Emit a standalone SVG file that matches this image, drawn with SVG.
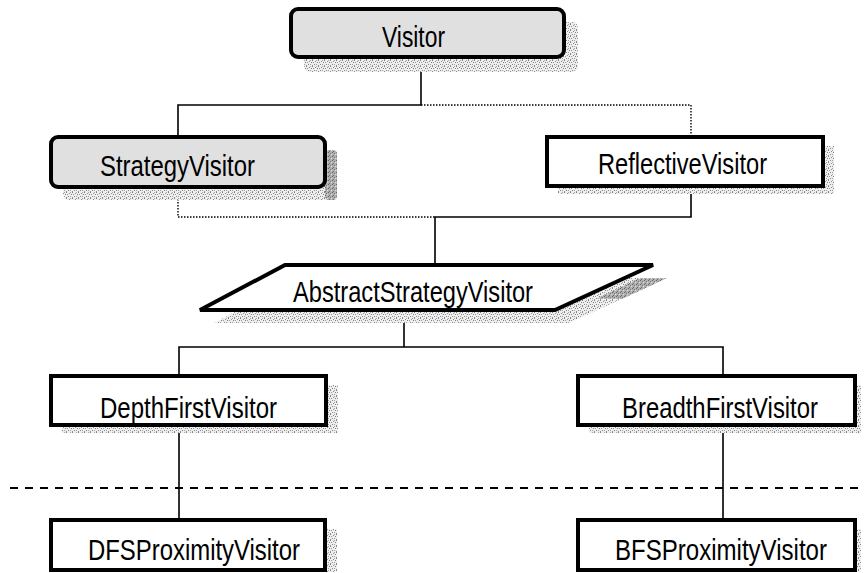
<svg xmlns="http://www.w3.org/2000/svg" width="864" height="573" viewBox="0 0 864 573">
<style>
.box{stroke:#000;stroke-width:4;fill:#fff}
.gray{fill:#e0e0e0}
.lbl{font-family:"Liberation Sans",Arial,sans-serif;font-size:30px;fill:#000;text-anchor:middle}
.ln{stroke:#000;stroke-width:1.6;fill:none}
.dot{stroke:#000;stroke-width:1.4;fill:none;stroke-dasharray:1.5 1.5}
.dash{stroke:#000;stroke-width:1.8;fill:none;stroke-dasharray:8 7}
.sh{fill:url(#stip)}
.shd{fill:url(#stipd)}
</style>
<defs>
<pattern id="stip" width="6" height="6" patternUnits="userSpaceOnUse">
<rect width="6" height="6" fill="#eeeeee"/>
<rect x="0" y="0" width="1" height="1" fill="#808080"/>
<rect x="3" y="1" width="1" height="1" fill="#909090"/>
<rect x="1" y="2" width="1" height="1" fill="#989898"/>
<rect x="5" y="2" width="1" height="1" fill="#808080"/>
<rect x="2" y="4" width="1" height="1" fill="#888888"/>
<rect x="4" y="4" width="1" height="1" fill="#a0a0a0"/>
<rect x="0" y="5" width="1" height="1" fill="#909090"/>
<rect x="4" y="0" width="1" height="1" fill="#a8a8a8"/>
</pattern>
<pattern id="stipd" width="4" height="4" patternUnits="userSpaceOnUse">
<rect width="4" height="4" fill="#b0b0b0"/>
<rect x="0" y="0" width="1" height="1" fill="#666666"/>
<rect x="2" y="1" width="1" height="1" fill="#777777"/>
<rect x="1" y="3" width="1" height="1" fill="#6c6c6c"/>
<rect x="3" y="2" width="1" height="1" fill="#dddddd"/>
</pattern>
</defs>

<g id="connectors">
<path class="ln" d="M421,57 V105 H178 V137"/>
<path class="dot" d="M421,105 H691 V137"/>
<path class="dot" d="M178,187 V217 H435"/>
<path class="ln" d="M691,186 V217 H435 V265"/>
<path class="ln" d="M404,310 V347 M179,376 V347 H723 V376"/>
<path class="ln" d="M179,425 V520 M723,425 V520"/>
<path class="dash" d="M10,488 H864"/>
</g>

<g id="visitor">
<rect class="sh" x="304" y="22" width="274" height="50" rx="6"/>
<rect class="box gray" x="291" y="9" width="273" height="48" rx="7"/>
<text class="lbl" x="413.5" y="47" textLength="63" lengthAdjust="spacingAndGlyphs">Visitor</text>
</g>

<g id="strategyvisitor">
<rect class="sh" x="63" y="150" width="274" height="50" rx="6"/>
<rect class="shd" x="325" y="150" width="12" height="50" rx="4"/>
<rect class="box gray" x="51" y="137" width="274" height="50" rx="7"/>
<text class="lbl" x="177.5" y="176" textLength="155" lengthAdjust="spacingAndGlyphs">StrategyVisitor</text>
</g>

<g id="reflectivevisitor">
<rect class="sh" x="558" y="146" width="276" height="48"/>
<rect class="box" x="547" y="137" width="276" height="49"/>
<text class="lbl" x="682.5" y="174" textLength="169" lengthAdjust="spacingAndGlyphs">ReflectiveVisitor</text>
</g>

<g id="abstractstrategyvisitor">
<polygon class="sh" points="299,278 667,278 569,323 214,323"/>
<polygon class="shd" points="640,278 667,278 622,299 596,299"/>
<polygon class="box" points="285,265 653,265 555,310 200,310"/>
<text class="lbl" x="413" y="302" textLength="240" lengthAdjust="spacingAndGlyphs">AbstractStrategyVisitor</text>
</g>

<g id="depthfirstvisitor">
<rect class="sh" x="62" y="385" width="276" height="48"/>
<rect class="box" x="51" y="376" width="275" height="49"/>
<text class="lbl" x="188.5" y="418" textLength="177" lengthAdjust="spacingAndGlyphs">DepthFirstVisitor</text>
</g>

<g id="breadthfirstvisitor">
<rect class="sh" x="589" y="385" width="272" height="48"/>
<rect class="box" x="578" y="376" width="277" height="49"/>
<text class="lbl" x="720" y="418" textLength="196" lengthAdjust="spacingAndGlyphs">BreadthFirstVisitor</text>
</g>

<g id="dfsproximityvisitor">
<rect class="sh" x="62" y="529" width="275" height="43"/>
<rect class="box" x="51" y="520" width="274" height="50"/>
<text class="lbl" x="194" y="560" textLength="212" lengthAdjust="spacingAndGlyphs">DFSProximityVisitor</text>
</g>

<g id="bfsproximityvisitor">
<rect class="sh" x="589" y="529" width="272" height="43"/>
<rect class="box" x="578" y="520" width="277" height="50"/>
<text class="lbl" x="721" y="560" textLength="212" lengthAdjust="spacingAndGlyphs">BFSProximityVisitor</text>
</g>
</svg>
